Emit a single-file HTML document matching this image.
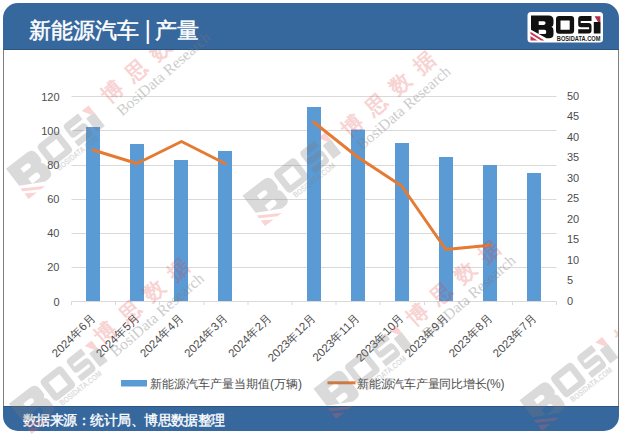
<!DOCTYPE html>
<html><head><meta charset="utf-8">
<style>
html,body{margin:0;padding:0;background:#fff;}
body{width:623px;height:435px;position:relative;overflow:hidden;font-family:"Liberation Sans",sans-serif;}
.card{position:absolute;left:3px;top:3px;width:616px;height:428px;background:#36679D;border-radius:15px;overflow:hidden;}
.content{position:absolute;left:0;top:47px;width:616px;height:356px;background:#fff;border-left:1px solid #7f7f7f;border-right:1px solid #7f7f7f;box-sizing:border-box;}
.hline{position:absolute;left:0;width:616px;height:1px;background:#2c5580;}
.t{position:absolute;color:#fff;white-space:nowrap;}
.title{font-size:22px;line-height:26px;-webkit-text-stroke:0.5px #fff;}
.foot{left:23px;top:411.5px;font-size:13.5px;line-height:18px;font-weight:400;-webkit-text-stroke:0.35px #fff;letter-spacing:-0.55px;}
svg{position:absolute;left:0;top:0;}
.ax{font-family:"Liberation Sans",sans-serif;font-size:11px;fill:#4d4d4d;}
.xl{font-size:11.5px;}
.lg{font-family:"Liberation Sans",sans-serif;font-size:12px;fill:#4d4d4d;}
</style></head><body>
<div class="card">
  <div class="hline" style="top:46px"></div>
  <div class="content"></div>
  <div class="hline" style="top:403px"></div>
</div>
<div class="t title" style="left:29px;top:18px">新能源汽车</div>
<div class="t" style="left:144.5px;top:16px;font-size:25px;line-height:28px">|</div>
<div class="t title" style="left:155px;top:18px">产量</div>
<div class="t foot">数据来源：统计局、博思数据整理</div>
<svg width="623" height="435" viewBox="0 0 623 435">
<defs>
<g id="wmt">
<g fill="#E03A3A" opacity="0.22" font-family="Liberation Serif, serif" font-size="21" font-weight="bold" text-anchor="middle">
<text x="0" y="7.5">博</text><text x="32" y="7.5">思</text><text x="64" y="7.5">数</text><text x="96" y="7.5">据</text>
</g>
</g>
<g id="wmr"><text x="-9" y="26" font-family="Liberation Serif, serif" font-size="15.5" fill="#7a7a7a" opacity="0.38">BosiData Research</text>
</g>
<g id="wml">
<g transform="translate(-65.5,10) scale(1.5) translate(-569.5,-24.75)" opacity="0.27">
<path fill="#7a7a7a" fill-rule="evenodd" d="M531,15.5 H548.5 Q553.5,15.5 553.5,20.5 V23.5 Q553.5,26 551.5,26.8 Q553.5,27.6 553.5,30.5 V34 Q553.5,38.3 549,38.3 H546.5 L531,29.8 Z M538.7,21.3 H543.8 Q545.6,21.3 545.6,23.1 Q545.6,24.9 543.8,24.9 H538.7 Z M538.7,29.7 H544.3 Q546.3,29.7 546.3,31.9 Q546.3,34.1 544.3,34.1 H538.7 Z"/>
<path fill="#7a7a7a" fill-rule="evenodd" d="M559,16 H571 Q574.1,16 574.1,19 V30.7 Q574.1,33.7 571,33.7 H559 Q556,33.7 556,30.7 V19 Q556,16 559,16 Z M560.5,20.5 V29.7 H569.7 V20.5 Z"/>
<path fill="#7a7a7a" fill-rule="evenodd" d="M581,16 H591.5 V20.9 H580.7 V22.9 H588.5 Q591.5,22.9 591.5,26 V30.5 Q591.5,33.5 588.5,33.5 H578.2 V29.3 H589.1 V27.3 H581 Q578.2,27.3 578.2,24.5 V19 Q578.2,16 581,16 Z"/>
<rect x="593.8" y="22" width="6.7" height="11.5" fill="#7a7a7a"/>
<path fill="#F06060" d="M594.5,16.2 H600.4 V22 H598 Z"/>
<path fill="#F06060" d="M530.5,31.8 L544.5,40.6 H541 L530.5,34 Z M530.5,36 L537.5,40.6 H530.5 Z"/>
<text x="558" y="38.5" font-family="Liberation Sans, sans-serif" font-size="5.5" font-weight="bold" fill="#7a7a7a" textLength="34" lengthAdjust="spacingAndGlyphs">BOSIDATA.COM</text>
</g>
</g>
</defs>
<line x1="71.5" y1="96.5" x2="556.5" y2="96.5" stroke="#D9D9D9" stroke-width="1"/>
<line x1="71.5" y1="130.5" x2="556.5" y2="130.5" stroke="#D9D9D9" stroke-width="1"/>
<line x1="71.5" y1="165.5" x2="556.5" y2="165.5" stroke="#D9D9D9" stroke-width="1"/>
<line x1="71.5" y1="199.5" x2="556.5" y2="199.5" stroke="#D9D9D9" stroke-width="1"/>
<line x1="71.5" y1="233.5" x2="556.5" y2="233.5" stroke="#D9D9D9" stroke-width="1"/>
<line x1="71.5" y1="267.5" x2="556.5" y2="267.5" stroke="#D9D9D9" stroke-width="1"/>
<rect x="86" y="127" width="14" height="174" fill="#5B9BD5"/>
<rect x="130" y="144" width="14" height="157" fill="#5B9BD5"/>
<rect x="174" y="160" width="14" height="141" fill="#5B9BD5"/>
<rect x="218" y="151" width="14" height="150" fill="#5B9BD5"/>
<rect x="307" y="107" width="14" height="194" fill="#5B9BD5"/>
<rect x="351" y="129.6" width="14" height="171.4" fill="#5B9BD5"/>
<rect x="395" y="143" width="14" height="158" fill="#5B9BD5"/>
<rect x="439" y="157" width="14" height="144" fill="#5B9BD5"/>
<rect x="483" y="165" width="14" height="136" fill="#5B9BD5"/>
<rect x="527" y="173" width="14" height="128" fill="#5B9BD5"/>
<line x1="71.5" y1="301.5" x2="556.5" y2="301.5" stroke="#D9D9D9" stroke-width="1"/>
<line x1="71.5" y1="301.5" x2="71.5" y2="305" stroke="#D9D9D9" stroke-width="1"/>
<line x1="115.5" y1="301.5" x2="115.5" y2="305" stroke="#D9D9D9" stroke-width="1"/>
<line x1="159.5" y1="301.5" x2="159.5" y2="305" stroke="#D9D9D9" stroke-width="1"/>
<line x1="204.0" y1="301.5" x2="204.0" y2="305" stroke="#D9D9D9" stroke-width="1"/>
<line x1="248.0" y1="301.5" x2="248.0" y2="305" stroke="#D9D9D9" stroke-width="1"/>
<line x1="292.0" y1="301.5" x2="292.0" y2="305" stroke="#D9D9D9" stroke-width="1"/>
<line x1="336.0" y1="301.5" x2="336.0" y2="305" stroke="#D9D9D9" stroke-width="1"/>
<line x1="380.0" y1="301.5" x2="380.0" y2="305" stroke="#D9D9D9" stroke-width="1"/>
<line x1="424.5" y1="301.5" x2="424.5" y2="305" stroke="#D9D9D9" stroke-width="1"/>
<line x1="468.5" y1="301.5" x2="468.5" y2="305" stroke="#D9D9D9" stroke-width="1"/>
<line x1="512.5" y1="301.5" x2="512.5" y2="305" stroke="#D9D9D9" stroke-width="1"/>
<line x1="556.5" y1="301.5" x2="556.5" y2="305" stroke="#D9D9D9" stroke-width="1"/>
<polyline points="93,150 137,163.5 181.5,141.5 225,163.5" fill="none" stroke="#E57A33" stroke-width="3" stroke-linejoin="round" stroke-linecap="round"/>
<polyline points="313.5,122 357.6,157 401.7,186 445.8,249.5 490,245.3" fill="none" stroke="#E57A33" stroke-width="3" stroke-linejoin="round" stroke-linecap="round"/>
<text x="59.5" y="100.5" text-anchor="end" class="ax">120</text>
<text x="59.5" y="134.66666666666666" text-anchor="end" class="ax">100</text>
<text x="59.5" y="168.83333333333331" text-anchor="end" class="ax">80</text>
<text x="59.5" y="203.0" text-anchor="end" class="ax">60</text>
<text x="59.5" y="237.16666666666666" text-anchor="end" class="ax">40</text>
<text x="59.5" y="271.33333333333337" text-anchor="end" class="ax">20</text>
<text x="59.5" y="305.5" text-anchor="end" class="ax">0</text>
<text x="567" y="99.7" class="ax">50</text>
<text x="567" y="120.2" class="ax">45</text>
<text x="567" y="140.7" class="ax">40</text>
<text x="567" y="161.2" class="ax">35</text>
<text x="567" y="181.7" class="ax">30</text>
<text x="567" y="202.2" class="ax">25</text>
<text x="567" y="222.7" class="ax">20</text>
<text x="567" y="243.2" class="ax">15</text>
<text x="567" y="263.7" class="ax">10</text>
<text x="567" y="284.2" class="ax">5</text>
<text x="567" y="304.7" class="ax">0</text>
<text transform="translate(96.2,318.5) rotate(-45)" text-anchor="end" class="ax xl">2024年6月</text>
<text transform="translate(140.29999999999998,318.5) rotate(-45)" text-anchor="end" class="ax xl">2024年5月</text>
<text transform="translate(184.39999999999998,318.5) rotate(-45)" text-anchor="end" class="ax xl">2024年4月</text>
<text transform="translate(228.5,318.5) rotate(-45)" text-anchor="end" class="ax xl">2024年3月</text>
<text transform="translate(272.59999999999997,318.5) rotate(-45)" text-anchor="end" class="ax xl">2024年2月</text>
<text transform="translate(316.7,318.5) rotate(-45)" text-anchor="end" class="ax xl">2023年12月</text>
<text transform="translate(360.8,318.5) rotate(-45)" text-anchor="end" class="ax xl">2023年11月</text>
<text transform="translate(404.9,318.5) rotate(-45)" text-anchor="end" class="ax xl">2023年10月</text>
<text transform="translate(449.0,318.5) rotate(-45)" text-anchor="end" class="ax xl">2023年9月</text>
<text transform="translate(493.1,318.5) rotate(-45)" text-anchor="end" class="ax xl">2023年8月</text>
<text transform="translate(537.2,318.5) rotate(-45)" text-anchor="end" class="ax xl">2023年7月</text>
<g id="logo">
<rect x="527.5" y="12" width="75.5" height="30.5" rx="3.5" fill="#fff"/>
<path fill="#111" fill-rule="evenodd" d="M531,15.5 H548.5 Q553.5,15.5 553.5,20.5 V23.5 Q553.5,26 551.5,26.8 Q553.5,27.6 553.5,30.5 V34 Q553.5,38.3 549,38.3 H546.5 L531,29.8 Z M538.7,21.3 H543.8 Q545.6,21.3 545.6,23.1 Q545.6,24.9 543.8,24.9 H538.7 Z M538.7,29.7 H544.3 Q546.3,29.7 546.3,31.9 Q546.3,34.1 544.3,34.1 H538.7 Z"/>
<path fill="#c8384f" d="M530.5,31.8 L544.5,40.6 H541 L530.5,34 Z M530.5,36 L537.5,40.6 H530.5 Z"/>
<path fill="#111" fill-rule="evenodd" d="M559,16 H571 Q574.1,16 574.1,19 V30.7 Q574.1,33.7 571,33.7 H559 Q556,33.7 556,30.7 V19 Q556,16 559,16 Z M560.5,20.5 V29.7 H569.7 V20.5 Z"/>
<path fill="#111" fill-rule="evenodd" d="M581,16 H591.5 V20.9 H580.7 V22.9 H588.5 Q591.5,22.9 591.5,26 V30.5 Q591.5,33.5 588.5,33.5 H578.2 V29.3 H589.1 V27.3 H581 Q578.2,27.3 578.2,24.5 V19 Q578.2,16 581,16 Z"/>
<rect x="593.8" y="22" width="6.7" height="11.5" fill="#111"/>
<path fill="#b03050" d="M594.5,16.2 H600.4 V22 H598 Z"/>
<text x="556.8" y="41" font-family="Liberation Sans, sans-serif" font-size="6.6" font-weight="bold" fill="#222" textLength="43.6" lengthAdjust="spacingAndGlyphs">BOSIDATA.COM</text>
</g>
<rect x="121" y="380" width="26" height="6.5" fill="#5B9BD5"/>
<text x="150" y="388" class="lg">新能源汽车产量当期值(万辆)</text>
<line x1="327.5" y1="382.8" x2="355.5" y2="382.8" stroke="#E57A33" stroke-width="3"/>
<text x="357" y="388" class="lg" letter-spacing="-0.25">新能源汽车产量同比增长(%)</text>
</svg>
<svg width="623" height="435" viewBox="0 0 623 435">
<defs><clipPath id="cc"><rect x="4" y="50" width="614" height="356"/></clipPath></defs>
<g clip-path="url(#cc)">
<use href="#wmt" transform="translate(112,91) rotate(-41)"/>
<use href="#wmt" transform="translate(352,125) rotate(-41)"/>
<use href="#wmt" transform="translate(105.5,332) rotate(-41)"/>
<use href="#wmt" transform="translate(417,314) rotate(-41)"/>
<use href="#wmt" transform="translate(626,333) rotate(-41)"/>
</g>
<use href="#wmr" transform="translate(112,91) rotate(-41)"/>
<use href="#wmr" transform="translate(352,125) rotate(-41)"/>
<use href="#wmr" transform="translate(105.5,332) rotate(-41)"/>
<use href="#wmr" transform="translate(417,314) rotate(-41)"/>
<use href="#wmr" transform="translate(626,333) rotate(-41)"/>
<use href="#wml" transform="translate(105.5,96) rotate(-38)"/>
<use href="#wml" transform="translate(342,123) rotate(-38)"/>
<use href="#wml" transform="translate(108.5,331) rotate(-38)"/>
<use href="#wml" transform="translate(413,316) rotate(-38)"/>
<use href="#wml" transform="translate(619,327.5) rotate(-38)"/>
</svg>
</body></html>
